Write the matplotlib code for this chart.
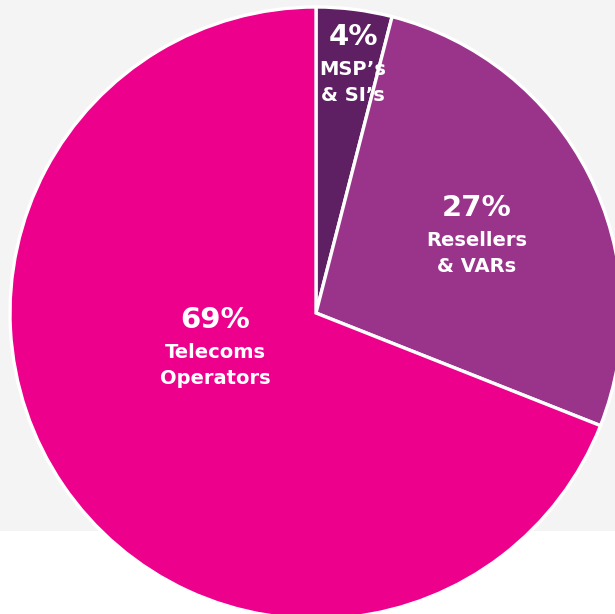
import matplotlib.pyplot as plt
from matplotlib.patches import Rectangle

# Data
categories = ['MSP\u2019s\n& SI\u2019s', 'Resellers\n& VARs', 'Telecoms\nOperators']
shares = [4, 27, 69]
colors = ['#5e1f63', '#9a348a', '#ec008c']

# Label anchor points in pixel coords (x, y from top)
label_pos = [(353, 37), (477, 208), (215, 320)]

W, H = 615, 614
fig = plt.figure(figsize=(W / 100, H / 100), dpi=100)
ax = fig.add_axes([0, 0, 1, 1])

# light grey panel behind the pie
ax.add_patch(Rectangle((0, H - 531), W, 531, facecolor='#f4f4f4', edgecolor='none', zorder=0))

ax.pie(shares, colors=colors, startangle=90, counterclock=False,
       center=(316, H - 313), radius=306,
       wedgeprops=dict(edgecolor='white', linewidth=2.4), frame=True)
ax.set_xlim(0, W)
ax.set_ylim(0, H)
ax.set_aspect('equal')
ax.axis('off')

font = 'DejaVu Sans'
for (x, y), pct, name in zip(label_pos, shares, categories):
    ax.text(x, H - y, f'{pct}%', ha='center', va='center', color='white',
            fontsize=21, fontweight='bold', family=font, zorder=5)
    ax.text(x, H - y - 23, name, ha='center', va='top', color='white',
            fontsize=14, fontweight='bold', family=font, linespacing=1.45, zorder=5)

plt.savefig('out.png', dpi=100)
